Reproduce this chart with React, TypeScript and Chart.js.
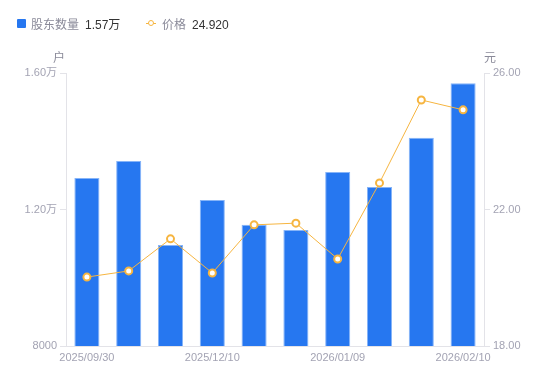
import React, { useEffect, useRef } from "react";
import { Chart, registerables } from "chart.js";

Chart.register(...registerables);

const categories = [
  "2025/09/30", "2025/10/20", "2025/10/31", "2025/12/10", "2025/12/19",
  "2025/12/31", "2026/01/09", "2026/01/20", "2026/01/30", "2026/02/10",
];
const shareholders = [12920, 13420, 10960, 12280, 11550, 11400, 13100, 12660, 14100, 15700];
const prices = [20.02, 20.2, 21.14, 20.14, 21.55, 21.6, 20.55, 22.78, 25.21, 24.92];
const leftTicks = [8000, 12000, 16000];
const rightTicks = [18, 22, 26];
const shownLabelIdx = [0, 3, 6, 9];

const FONT = "'Liberation Sans', 'Noto Sans CJK SC', sans-serif";
const BLUE = "#2677F0";
const ORANGE = "#F6B540";
const GREY = "#A3A3B3";

function fmtLeft(v: number) {
  if (v >= 10000) return (v / 10000).toFixed(2) + "万";
  return String(v);
}

export default function App() {
  const ref = useRef<HTMLCanvasElement | null>(null);
  useEffect(() => {
    if (!ref.current) return;
    const chart = new Chart(ref.current, {
      data: {
        labels: categories,
        datasets: [
          {
            type: "line",
            label: "价格",
            data: prices,
            yAxisID: "y1",
            borderColor: ORANGE,
            borderWidth: 1,
            pointRadius: 3.5,
            pointBorderWidth: 2,
            pointBackgroundColor: "#ffffff",
            pointBorderColor: ORANGE,
            tension: 0,
            order: 0,
          },
          {
            type: "bar",
            label: "股东数量",
            data: shareholders,
            yAxisID: "y",
            backgroundColor: BLUE,
            borderColor: "#86B4F8",
            borderWidth: 1,
            categoryPercentage: 0.6,
            barPercentage: 1,
            order: 1,
          },
        ],
      },
      options: {
        animation: false,
        responsive: false,
        maintainAspectRatio: false,
        layout: { padding: { top: 73, left: 0, right: 0, bottom: 0 } },
        plugins: { legend: { display: false }, tooltip: { enabled: false } },
        scales: {
          x: {
            offset: true,
            grid: { display: false, drawTicks: false },
            border: { color: "#E3E3E8" },
            ticks: {
              autoSkip: false,
              maxRotation: 0,
              padding: 5,
              color: GREY,
              font: { family: FONT, size: 11 },
              callback: (_v: any, i: number) => (shownLabelIdx.includes(i) ? categories[i] : ""),
            },
            afterFit: (s: any) => { s.height = 35; },
          },
          y: {
            position: "left",
            min: 8000,
            max: 16000,
            afterBuildTicks: (s: any) => { s.ticks = leftTicks.map((v) => ({ value: v })); },
            grid: { display: true, drawOnChartArea: false, drawTicks: true, tickLength: 6, tickColor: "#E3E3E8" },
            border: { color: "#E3E3E8" },
            ticks: {
              color: GREY,
              padding: 3,
              font: { family: FONT, size: 11 },
              callback: (v: any) => fmtLeft(Number(v)),
            },
            afterFit: (s: any) => { s.width = 66; },
          },
          y1: {
            position: "right",
            min: 18,
            max: 26,
            afterBuildTicks: (s: any) => { s.ticks = rightTicks.map((v) => ({ value: v })); },
            grid: { display: true, drawOnChartArea: false, drawTicks: true, tickLength: 6, tickColor: "#E3E3E8" },
            border: { color: "#E3E3E8" },
            ticks: {
              color: GREY,
              padding: 3,
              font: { family: FONT, size: 11 },
              callback: (v: any) => Number(v).toFixed(2),
            },
            afterFit: (s: any) => { s.width = 66; },
          },
        },
      },
    } as any);
    return () => chart.destroy();
  }, []);

  const textStyle: React.CSSProperties = {
    fontFamily: FONT, fontSize: 12, lineHeight: "16px", height: 16, position: "absolute", whiteSpace: "nowrap",
  };
  return (
    <div style={{ position: "absolute", left: 0, top: 0, width: 550, height: 381, background: "#fff" }}>
      <canvas ref={ref} width={550} height={381} style={{ position: "absolute", left: 0, top: 0 }} />
      <div style={{ position: "absolute", left: 17, top: 19, width: 9, height: 9, background: BLUE, borderRadius: 1 }} />
      <div style={{ ...textStyle, left: 31, top: 17, color: "#8A8A99" }}>股东数量</div>
      <div style={{ ...textStyle, left: 85, top: 17, color: "#333" }}>1.57万</div>
      <div style={{ position: "absolute", left: 146, top: 23, width: 10, height: 1, background: ORANGE }} />
      <div style={{ position: "absolute", left: 148, top: 20, width: 4, height: 4, border: `1.5px solid ${ORANGE}`, borderRadius: "50%", background: "#fff" }} />
      <div style={{ ...textStyle, left: 162, top: 17, color: "#8A8A99" }}>价格</div>
      <div style={{ ...textStyle, left: 192, top: 17, color: "#333" }}>24.920</div>
      <div style={{ ...textStyle, left: 53, top: 50, color: "#8A8A99" }}>户</div>
      <div style={{ ...textStyle, left: 484, top: 50, color: "#8A8A99" }}>元</div>
    </div>
  );
}
